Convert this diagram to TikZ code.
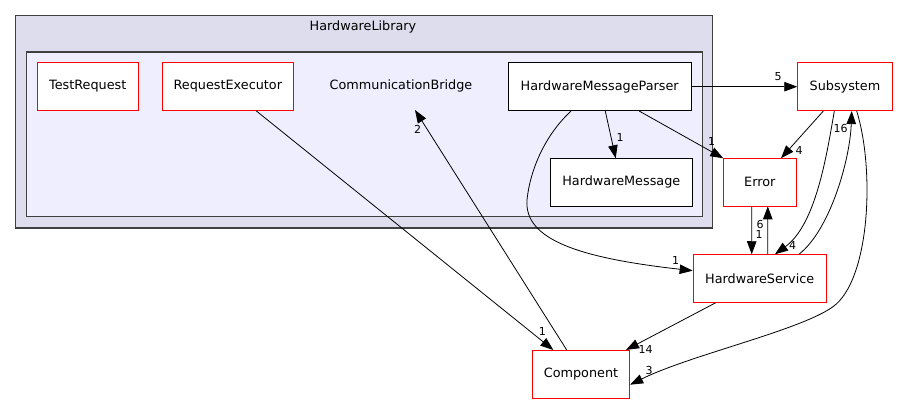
\documentclass[tikz,border=0pt]{standalone}
\usepackage{fontspec}
\setmainfont{DejaVu Sans}
\usetikzlibrary{arrows.meta}
\definecolor{outerfill}{HTML}{DDDDEE}
\definecolor{innerfill}{HTML}{EEEEFF}
\definecolor{clusterline}{HTML}{404040}
\tikzset{
  dirbox/.style={draw=red, fill=white, line width=0.8pt, inner sep=0pt, font=\fontsize{12.8}{15}\selectfont},
  plainbox/.style={draw=black, fill=white, line width=0.8pt, inner sep=0pt, font=\fontsize{12.8}{15}\selectfont},
  cluster/.style={draw=clusterline, line width=1.2pt},
  dep/.style={draw=black, line width=0.8pt, -{Triangle[length=13pt,width=9.5pt]}},
  elabel/.style={inner sep=0pt, font=\fontsize{11}{13}\selectfont},
  ctitle/.style={inner sep=0pt, font=\fontsize{12.8}{15}\selectfont}
}
\begin{document}
\begin{tikzpicture}[x=1pt,y=-1pt]
\useasboundingbox (0,0) rectangle (898,404);
% clusters
\draw[cluster, fill=outerfill] (15.7,15.7) rectangle (712.7,228);
\node[ctitle] (hwlib) at (363,27) {HardwareLibrary};
\draw[cluster, fill=innerfill] (26.3,52) rectangle (702.7,216.7);
\node[ctitle] (cb) at (401,86) {CommunicationBridge};
\coordinate (cbin) at (415,110);
% nodes
\node[dirbox, minimum width=101.7pt, minimum height=48pt] (tr) at (87.8,86.3) {TestRequest};
\node[dirbox, minimum width=131pt, minimum height=48pt] (re) at (227.8,86.3) {RequestExecutor};
\node[plainbox, minimum width=182.7pt, minimum height=48pt] (hmp) at (599.7,86.7) {HardwareMessageParser};
\node[plainbox, minimum width=142.7pt, minimum height=47.3pt] (hm) at (621.3,182.3) {HardwareMessage};
\node[dirbox, minimum width=94.7pt, minimum height=48pt] (sub) at (845,86.7) {Subsystem};
\node[dirbox, minimum width=72.3pt, minimum height=47.3pt] (err) at (759.8,182.3) {Error};
\node[dirbox, minimum width=133.3pt, minimum height=47.7pt] (hs) at (759.7,278.5) {HardwareService};
\node[dirbox, minimum width=97.4pt, minimum height=48.3pt] (comp) at (581,374.5) {Component};
% edges
\draw[dep] (hmp.east) -- (sub.west);
\draw[dep] ([xshift=5.6pt]hmp.south) -- ([xshift=-5.6pt]hm.north);
\draw[dep] ([xshift=39.6pt]hmp.south) -- (err.north west);
\draw[dep] ([xshift=-28.7pt]hmp.south) .. controls (545,135) and (530,170) .. (527,200)
   .. controls (524,240) and (580,258) .. (hs.west |- 0,270.7);
\draw[dep] ([xshift=-21.7pt]sub.south) -- ([xshift=21.2pt]err.north);
\draw[dep] ([xshift=-10.7pt]sub.south) .. controls (826,160) and (815,225) .. ([xshift=15.3pt]hs.north);
\draw[dep] ([xshift=39.3pt]hs.north) .. controls (830,230) and (850,160) .. ([xshift=6.7pt]sub.south);
\draw[dep] ([xshift=-8pt]err.south) -- ([xshift=-8pt]hs.north);
\draw[dep] ([xshift=8pt]hs.north) -- ([xshift=8pt]err.south);
\draw[dep] ([xshift=-44pt]hs.south) -- ([xshift=45pt]comp.north);
\draw[dep] ([xshift=11.7pt]sub.south) .. controls (875,170) and (870,280) .. (833,306.7)
   .. controls (800,330.5) and (690,355) .. ([yshift=-10.2pt]comp.east);
\draw[dep] ([xshift=28.2pt]re.south) -- ([xshift=-27.7pt]comp.north);
\draw[dep] ([xshift=-14.3pt]comp.north) -- (cbin);
% edge labels
\node[elabel] (l1) at (778,77) {5};
\node[elabel] (l2) at (620,137.7) {1};
\node[elabel] (l3) at (711.7,141.7) {1};
\node[elabel] (l4) at (675.7,260) {1};
\node[elabel] (l5) at (799,150) {4};
\node[elabel] (l6) at (792.7,245.7) {4};
\node[elabel] (l7) at (840.7,128.3) {16};
\node[elabel] (l8) at (759,234.3) {1};
\node[elabel] (l9) at (760,224.3) {6};
\node[elabel] (l10) at (645.7,349) {14};
\node[elabel] (l11) at (649,370.7) {3};
\node[elabel] (l12) at (542.3,331.7) {1};
\node[elabel] (l13) at (417.7,129.3) {2};
\end{tikzpicture}
\end{document}
